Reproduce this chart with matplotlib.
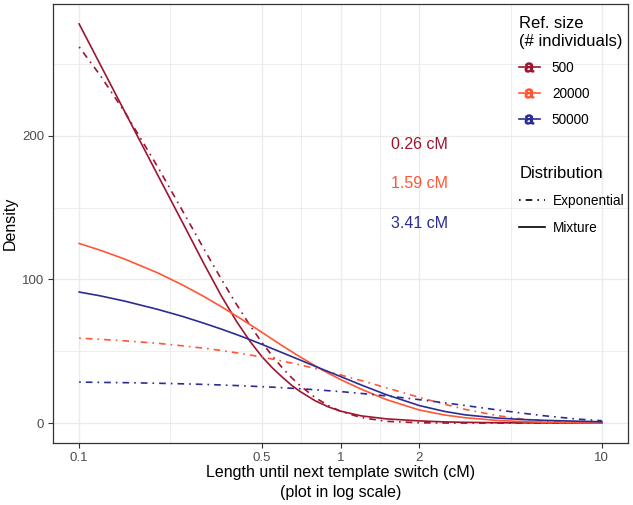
import numpy as np
import matplotlib
matplotlib.use("Agg")
import matplotlib.pyplot as plt
import matplotlib.ticker as ticker
from matplotlib.lines import Line2D

plt.rcParams['font.family'] = ['Liberation Sans', 'DejaVu Sans']

# values
length_cm = [0.1, 0.12, 0.15, 0.2, 0.25, 0.3, 0.35, 0.4, 0.45, 0.5, 0.55, 0.6, 0.65, 0.7, 0.8, 0.9,
             1.0, 1.2, 1.5, 2, 2.5, 3, 4, 5, 6, 8, 10]

expo_500 = [261.8, 242.4, 216.0, 178.2, 147.0, 121.3, 100.1, 82.6, 68.1, 56.2, 46.4, 38.3, 31.6, 26.1,
            17.7, 12.1, 8.2, 3.8, 1.2, 0.18, 0.03, 0.0, 0.0, 0.0, 0.0, 0.0, 0.0]
expo_20000 = [59.1, 58.3, 57.2, 55.5, 53.7, 52.1, 50.5, 48.9, 47.4, 45.9, 44.5, 43.1, 41.8, 40.5,
              38.0, 35.7, 33.5, 29.6, 24.5, 17.9, 13.1, 9.5, 5.1, 2.7, 1.4, 0.4, 0.1]
expo_50000 = [28.5, 28.3, 28.1, 27.7, 27.3, 26.9, 26.5, 26.1, 25.7, 25.3, 25.0, 24.6, 24.2, 23.9,
              23.2, 22.5, 21.9, 20.6, 18.9, 16.3, 14.1, 12.2, 9.1, 6.8, 5.1, 2.8, 1.6]

mix_500 = [277.8, 250.1, 216.2, 172.5, 138.8, 111.0, 88.5, 70.8, 57.0, 46.3, 38.2, 31.8, 26.3, 22.0,
           15.5, 11.2, 8.3, 5.0, 2.9, 1.5, 0.8, 0.5, 0.2, 0.1, 0.06, 0.02, 0.01]
mix_20000 = [125.0, 120.4, 114.0, 104.5, 95.9, 88.1, 81.0, 74.5, 68.6, 63.2, 58.2, 53.7, 49.7, 46.1,
             39.8, 34.6, 30.3, 23.6, 16.3, 9.1, 5.6, 3.7, 1.8, 1.0, 0.6, 0.3, 0.15]
mix_50000 = [91.2, 88.6, 84.8, 79.1, 74.1, 69.5, 65.4, 61.6, 58.1, 54.8, 51.7, 48.9, 46.3, 43.9,
             39.5, 35.7, 32.4, 26.5, 19.7, 12.2, 8.1, 5.7, 3.45, 2.45, 1.9, 1.3, 0.9]

ref_sizes = ["500", "20000", "50000"]
mean_labels = ["0.26 cM", "1.59 cM", "3.41 cM"]
mean_label_y = [194, 166.5, 138.7]
colors = ["#9E1530", "#FF5733", "#2B2C94"]

expo_series = [expo_500, expo_20000, expo_50000]
mix_series = [mix_500, mix_20000, mix_50000]

dotdash = (0, (1, 3, 4, 3))
lw = 1.2

fig = plt.figure(figsize=(6.33, 5.05), dpi=100)
ax = fig.add_axes([53 / 633, 62 / 505, 575 / 633, 439 / 505])

for i in range(3):
    ax.plot(length_cm, expo_series[i], color=colors[i], lw=lw, linestyle=dotdash, zorder=3)
    ax.plot(length_cm, mix_series[i], color=colors[i], lw=lw, linestyle="-", zorder=3)
    ax.text(2, mean_label_y[i], mean_labels[i], color=colors[i], fontsize=11.5,
            ha="center", va="center", zorder=4)

ax.set_xscale("log")
ax.set_xlim(10 ** -1.1, 10 ** 1.1)
ymax = max(mix_500)
ax.set_ylim(-0.05 * ymax, 1.05 * ymax)

ax.set_xticks([0.1, 0.5, 1, 2, 10])
ax.set_xticklabels(["0.1", "0.5", "1", "2", "10"])
ax.set_xticks([np.sqrt(0.1 * 0.5), np.sqrt(0.5), np.sqrt(2), np.sqrt(20)], minor=True)
ax.xaxis.set_minor_formatter(ticker.NullFormatter())
ax.set_yticks([0, 100, 200])
ax.set_yticks([50, 150, 250], minor=True)

ax.grid(True, which="major", color="#EBEBEB", lw=1.0, zorder=0)
ax.grid(True, which="minor", color="#EBEBEB", lw=0.6, zorder=0)
ax.set_axisbelow(True)
ax.tick_params(which="major", length=3.5, width=0.8, color="#333333",
               labelcolor="#4D4D4D", labelsize=9.5, pad=3)
ax.tick_params(which="minor", length=0)
for s in ax.spines.values():
    s.set_color("#333333")
    s.set_linewidth(0.9)

ax.set_xlabel("Length until next template switch (cM)\n(plot in log scale)",
              fontsize=11.5, color="black", labelpad=1, linespacing=1.35)
ax.set_ylabel("Density", fontsize=11.5, color="black", labelpad=3)

# legends
size_handles = [Line2D([], [], color=c, lw=lw, marker=r"$\mathregular{a}$", markersize=6.5)
                for c in colors]
leg1 = ax.legend(size_handles, ref_sizes, title="Ref. size\n(# individuals)",
                 loc="upper left", bbox_to_anchor=(507 / 633, 1 - 4 / 505),
                 bbox_transform=fig.transFigure, frameon=False, fontsize=9.8,
                 title_fontsize=12, alignment="left", labelspacing=0.88,
                 handlelength=1.5, handletextpad=0.9)
ax.add_artist(leg1)

dist_handles = [Line2D([], [], color="black", lw=lw, linestyle=dotdash),
                Line2D([], [], color="black", lw=lw, linestyle="-")]
leg2 = ax.legend(dist_handles, ["Exponential", "Mixture"], title="Distribution",
                 loc="upper left", bbox_to_anchor=(507 / 633, 1 - 154 / 505),
                 bbox_transform=fig.transFigure, frameon=False, fontsize=9.8,
                 title_fontsize=12, alignment="left", labelspacing=0.95,
                 handlelength=1.9, handletextpad=0.6)

fig.savefig("out.png", dpi=100)
